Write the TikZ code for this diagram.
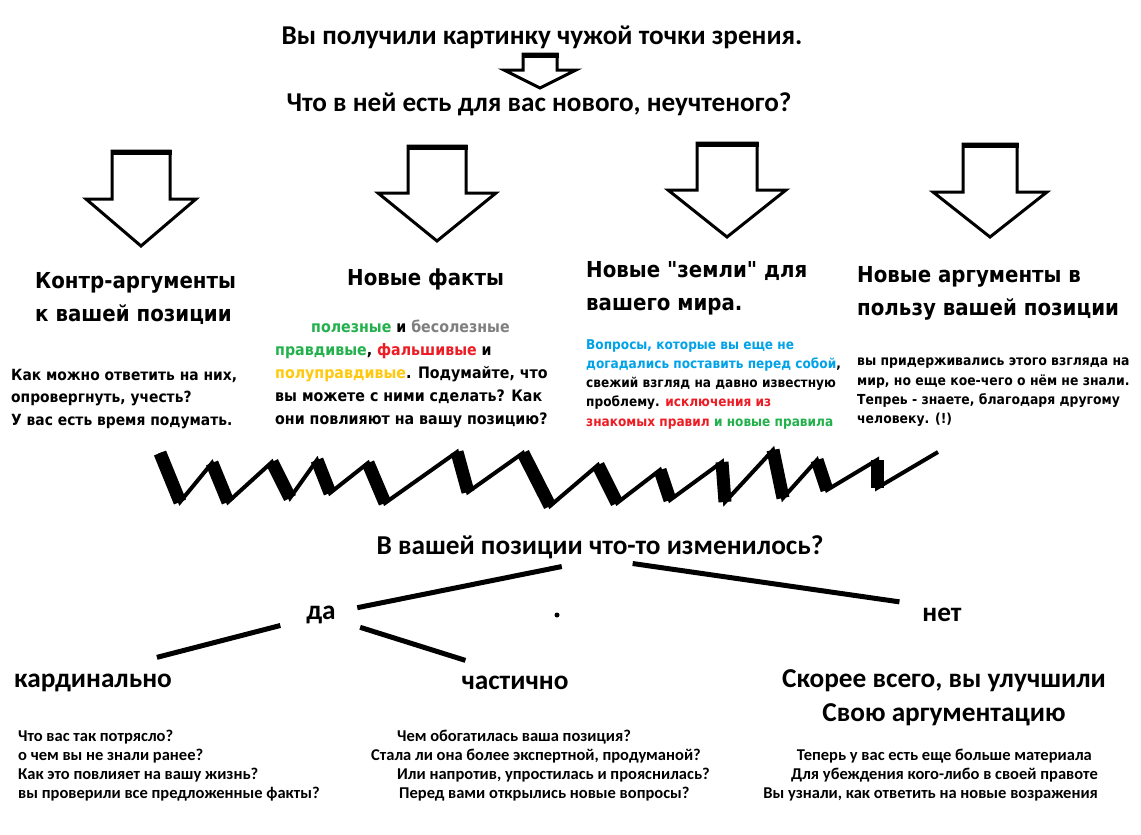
\documentclass[tikz,border=0pt]{standalone}
\usepackage{fontspec}
\setmainfont{Carlito}
\newfontfamily\cfont{Carlito}
\newfontfamily\hfont{DejaVu Sans}[FakeStretch=0.9]
\definecolor{pgreen}{HTML}{22B14C}
\definecolor{pgray}{HTML}{7F7F7F}
\definecolor{pred}{HTML}{ED1C24}
\definecolor{pyellow}{HTML}{FFC90E}
\definecolor{pblue}{HTML}{00A2E8}
\begin{document}
\begin{tikzpicture}[x=1pt,y=-1pt,line join=miter,
	title/.style={font=\cfont\bfseries\fontsize{27.2}{30}\selectfont,inner sep=0},
	head/.style={font=\hfont\bfseries\fontsize{22}{33}\selectfont,align=left,anchor=north west,inner sep=0},
	body/.style={font=\hfont\bfseries\fontsize{15.4}{22.5}\selectfont,align=left,anchor=north west,inner sep=0},
	bodysmall/.style={font=\hfont\bfseries\fontsize{13.5}{19.3}\selectfont,align=left,anchor=north west,inner sep=0},
	tree/.style={font=\cfont\bfseries\fontsize{27.3}{34}\selectfont,inner sep=0},
	note/.style={font=\cfont\bfseries\fontsize{16.5}{19}\selectfont,inner sep=0},
	blockarrow/.style={draw,fill=white,line width=3},
	branch/.style={line width=5},
	zigup/.style={line width=4},
	zigdown/.style={line width=13}]
\useasboundingbox[fill=white] (0,0) rectangle (1141,835);
% titles
\node[title] (t1) at (542,37) {Вы получили картинку чужой точки зрения.};
\node[title] (t2) at (539,104) {Что в ней есть для вас нового, неучтеного?};
% block arrows
\foreach \cx/\top/\sh/\tip/\hw/\sw in {540/54/70/88/36/17,141/151/199/246/55/29,437/146/193/241/59/29,727/143/190/237/59/30,990/144/192/237/57/27}
{
	\draw[blockarrow] ({\cx-\sw},\top) -- ({\cx-\sw},\sh) -- ({\cx-\hw},\sh) -- (\cx,\tip) -- ({\cx+\hw},\sh) -- ({\cx+\sw},\sh) -- ({\cx+\sw},\top) -- cycle;
	\draw[line width=5] ({\cx-\sw-1.5},{\top+1}) -- ({\cx+\sw+1.5},{\top+1});
}
% column headings
\node[head] (h1) at (35,272) {Контр-аргументы\\к вашей позиции};
\node[head] (h2) at (347,269) {Новые факты};
\node[head] (h3) at (586,261) {Новые "земли" для\\вашего мира.};
\node[head] (h4) at (857,266) {Новые аргументы в\\пользу вашей позиции};
% column texts
\node[body] (b1) at (11,369) {Как можно ответить на них,\\опровергнуть, учесть?\\У вас есть время подумать.};
\node[body,font=\hfont\bfseries\fontsize{15.8}{23}\selectfont] (b2) at (275,320) {\hspace*{36pt}\textcolor{pgreen}{полезные} и \textcolor{pgray}{бесолезные}\\
	\textcolor{pgreen}{правдивые}, \textcolor{pred}{фальшивые} и\\
	\textcolor{pyellow}{полуправдивые}. Подумайте, что\\
	вы можете с ними сделать? Как\\
	они повлияют на вашу позицию?};
\node[bodysmall] (b3) at (586,339) {\textcolor{pblue}{Вопросы, которые вы еще не}\\
	\textcolor{pblue}{догадались поставить перед собой},\\
	свежий взгляд на давно известную\\
	проблему. \textcolor{pred}{исключения из}\\
	\textcolor{pred}{знакомых правил} \textcolor{pgreen}{и новые правила}};
\node[bodysmall,font=\hfont\bfseries\fontsize{13.8}{19.3}\selectfont] (b4) at (857,358) {вы придерживались этого взгляда на\\мир, но еще кое-чего о нём не знали.\\Тепреь - знаете, благодаря другому\\человеку. (!)};
% zigzag
\draw[zigup] (160,453) -- (180,502) -- (212,463) -- (228,502) -- (272,462) -- (290,498) -- (317,460) -- (330,493) -- (368,463) -- (385,503) -- (457,452) -- (468,492) -- (523,453) -- (550,506) -- (598,465) -- (617,503) -- (660,470) -- (670,500) -- (722,462) -- (725,502) -- (773,450) -- (783,498) -- (817,460) -- (827,490) -- (877,460) -- (877,488) -- (938,452);
\foreach \a/\b/\c/\d in {160/453/180/502,212/463/228/502,272/462/290/498,317/460/330/493,368/463/385/503,457/452/468/492,523/453/550/506,598/465/617/503,660/470/670/500,722/462/725/502,773/450/783/498,817/460/827/490,877/460/877/488}
	\draw[zigdown] (\a,\b) -- (\c,\d);
% tree
\node[tree] (q) at (600,547) {В вашей позиции что-то изменилось?};
\node[tree] (da) at (321,615) {да};
\node[tree] (net) at (942,615) {нет};
\node[tree] (kard) at (93,683) {кардинально};
\node[tree] (chast) at (515,683) {частично};
\node[tree,align=center,anchor=north] (skoree) at (944,669) {Скорее всего, вы улучшили\\Свою аргументацию};
\fill (557,615) circle (2.5);
\draw[branch,shorten <=39,shorten >=37] (q.south) -- (da.center);
\draw[branch,shorten <=33,shorten >=43] (q.south) -- (net.north);
\draw[branch,shorten <=42,shorten >=66] (da.center) -- (kard.north);
\draw[branch,shorten <=41,shorten >=52] (da.center) -- (chast.north);
% questions
\node[note,align=left,anchor=north west] (n1) at (18,730) {Что вас так потрясло?\\о чем вы не знали ранее?\\Как это повлияет на вашу жизнь?\\вы проверили все предложенные факты?};
\node[note,align=left,anchor=north west] (n2) at (371,730) {\hspace*{26pt}Чем обогатилась ваша позиция?\\Стала ли она более экспертной, продуманой?\\\hspace*{26pt}Или напротив, упростилась и прояснилась?\\\hspace*{28pt}Перед вами открылись новые вопросы?};
\node[note,align=right,anchor=north east] (n3) at (1098,749) {Теперь у вас есть еще больше материала\hspace*{6pt}\\Для убеждения кого-либо в своей правоте\\Вы узнали, как ответить на новые возражения};
\end{tikzpicture}
\end{document}
